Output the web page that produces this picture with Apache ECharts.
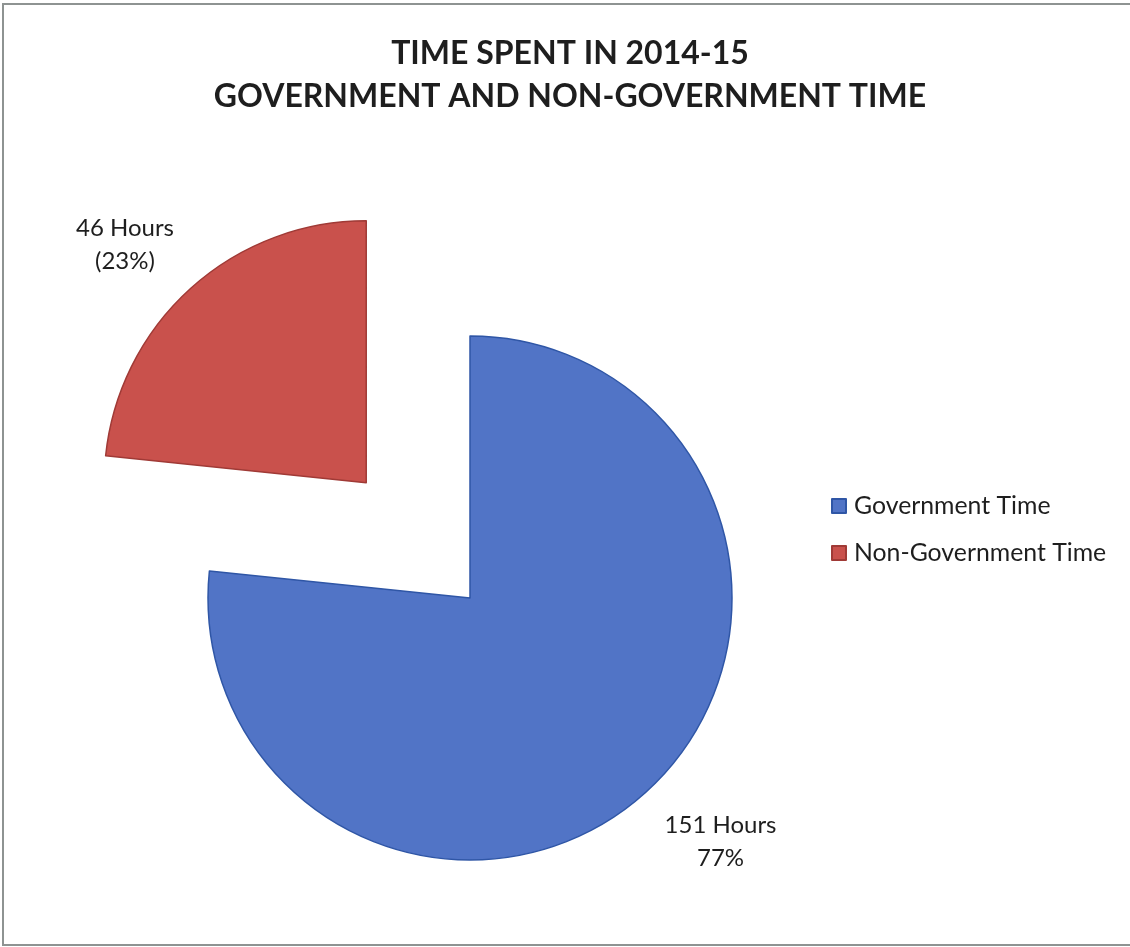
<!DOCTYPE html>
<html>
<head>
<meta charset="utf-8">
<script src="https://cdn.jsdelivr.net/npm/echarts@6/dist/echarts.min.js"></script>
<style>
  html, body { margin: 0; padding: 0; background: #fff; }
  #frame { position: absolute; left: 2px; top: 3px; width: 1128px; height: 939px;
           border-left: 2px solid #8e9392; border-top: 2px solid #8e9392; border-bottom: 2px solid #8e9392; }
  #chart { position: absolute; left: 0; top: 0; width: 1130px; height: 947px; }
</style>
</head>
<body>
<div id="frame"></div>
<div id="chart"></div>
<script>
// ---- data ----
const titleLines = ['TIME SPENT IN 2014-15', 'GOVERNMENT AND NON-GOVERNMENT TIME'];
const categories = ['Government Time', 'Non-Government Time'];
const hours = [151, 46];
const percentLabels = ['77%', '(23%)'];
const explodedIndex = 1;

const colors = ['#5174C6', '#C9514C'];
const borderColors = ['#2F56A6', '#A03A36'];
const FONT = 'Lato, "Open Sans", sans-serif';

// per-slice label placement (line length / offset of label from slice edge)
const labelLen = [66, 58];
const labelLen2 = [-25, -22];

const chart = echarts.init(document.getElementById('chart'), null, { renderer: 'canvas' });

const data = categories.map((name, i) => ({
  name: name,
  value: hours[i],
  selected: i === explodedIndex,
  itemStyle: { color: colors[i], borderColor: borderColors[i], borderWidth: 1.5 },
  label: {
    formatter: '{a|' + hours[i] + ' Hours}\n{a|' + percentLabels[i] + '}'
  },
  labelLine: { show: false, length: labelLen[i], length2: labelLen2[i] }
}));

chart.setOption({
  animation: false,
  title: {
    text: titleLines.join('\n'),
    left: 565,
    top: 27,
    textAlign: 'center',
    textStyle: { fontFamily: FONT, fontWeight: 'bold', fontSize: 32, lineHeight: 43, color: '#1e1e1e' }
  },
  legend: {
    orient: 'vertical',
    left: 831,
    top: 491,
    padding: 0,
    itemWidth: 14,
    itemHeight: 14,
    itemGap: 17,
    icon: 'rect',
    selectedMode: false,
    textStyle: { fontFamily: FONT, fontSize: 24.8, lineHeight: 30, color: '#1e1e1e', padding: [0, 0, 0, 3] },
    data: categories
  },
  series: [{
    type: 'pie',
    center: [470, 598],
    radius: 262,
    startAngle: 90,
    clockwise: true,
    selectedMode: 'single',
    selectedOffset: 155,
    avoidLabelOverlap: false,
    emphasis: { disabled: true },
    select: { itemStyle: {} },
    label: {
      show: true,
      position: 'outside',
      distanceToLabelLine: 0,
      rich: {
        a: { align: 'center', fontFamily: FONT, fontSize: 24, lineHeight: 33, color: '#1e1e1e' }
      }
    },
    labelLine: { show: false },
    data: data
  }]
});
</script>
</body>
</html>
